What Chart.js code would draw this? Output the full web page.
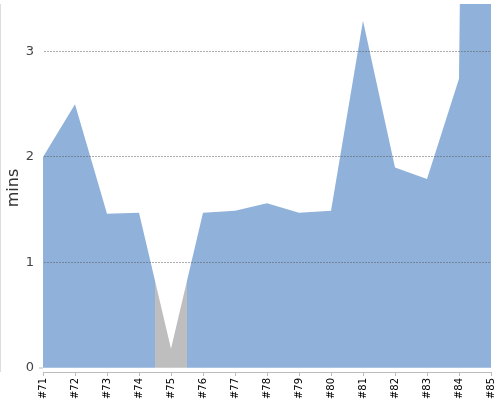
<!DOCTYPE html>
<html>
<head>
<meta charset="utf-8">
<script src="https://cdn.jsdelivr.net/npm/chart.js@4/dist/chart.umd.min.js"></script>
<style>
  body { margin: 0; background: #fff; }
</style>
</head>
<body>
<canvas id="buildChart" width="500" height="400"></canvas>
<script>
const builds = ['#71', '#72', '#73', '#74', '#75', '#76', '#77', '#78', '#79', '#80', '#81', '#82', '#83', '#84', '#85'];
const durations = [2.0, 2.5, 1.46, 1.47, 0.18, 1.47, 1.49, 1.56, 1.47, 1.49, 3.29, 1.9, 1.79, 2.74, 30];
const status = ['ok', 'ok', 'ok', 'ok', 'fail', 'ok', 'ok', 'ok', 'ok', 'ok', 'ok', 'ok', 'ok', 'ok', 'ok'];
const yTicks = [0, 1, 2, 3];

const BLUE = '#8fb1da';
const GREY = '#bebebe';

// fill colour per build: each point owns half a category on each side
function areaFill(c) {
  const chart = c.chart;
  const area = chart.chartArea;
  if (!area) return BLUE;
  const x = chart.scales.x;
  const w = area.right - area.left;
  const half = (x.getPixelForValue(1) - x.getPixelForValue(0)) / 2;
  const g = chart.ctx.createLinearGradient(area.left, 0, area.right, 0);
  const pos = px => Math.min(1, Math.max(0, (px - area.left) / w));
  status.forEach((s, i) => {
    const col = s === 'fail' ? GREY : BLUE;
    const mid = x.getPixelForValue(i);
    g.addColorStop(pos(mid - half), col);
    g.addColorStop(pos(mid + half), col);
  });
  return g;
}

const ctx = document.getElementById('buildChart').getContext('2d');
new Chart(ctx, {
  type: 'line',
  data: {
    labels: builds,
    datasets: [{
      label: 'Build duration',
      data: durations,
      backgroundColor: areaFill,
      borderWidth: 0,
      pointRadius: 0,
      fill: 'origin',
      tension: 0
    }]
  },
  options: {
    responsive: false,
    animation: false,
    layout: { padding: { top: 4, right: 9, left: 0, bottom: 0 } },
    plugins: {
      legend: { display: false },
      tooltip: { enabled: false }
    },
    scales: {
      x: {
        offset: false,
        grid: { drawOnChartArea: false, tickLength: 4, tickColor: '#bbbbbb' },
        border: { color: '#bbbbbb', width: 1 },
        ticks: {
          minRotation: 90,
          maxRotation: 90,
          autoSkip: false,
          padding: 2,
          color: '#000',
          font: { family: 'DejaVu Sans', size: 10 }
        },
        afterFit: s => { s.height = 28; s.paddingLeft = 0; s.paddingRight = 0; }
      },
      y: {
        min: -0.04,
        max: 3.45,
        afterBuildTicks: s => { s.ticks = yTicks.map(v => ({ value: v })); },
        grid: {
          z: 1,
          color: 'rgba(90,90,90,0.5)',
          tickColor: c => (c.tick && c.tick.value === 0 ? '#bbbbbb' : 'rgba(0,0,0,0)'),
          tickLength: 4,
          tickWidth: 1,
          lineWidth: c => (c.tick && c.tick.value === 0 ? 0 : 1)
        },
        border: { color: '#bbbbbb', width: 1, dash: [2, 1] },
        ticks: {
          padding: 5,
          color: '#444',
          font: { family: 'DejaVu Sans', size: 13 }
        },
        title: {
          display: true,
          text: 'mins',
          color: '#333',
          padding: { top: 4, bottom: 0 },
          font: { family: 'DejaVu Sans', size: 16 }
        },
        afterFit: s => { s.width = 43; s.paddingTop = 0; s.paddingBottom = 0; }
      }
    }
  }
});
</script>
</body>
</html>
